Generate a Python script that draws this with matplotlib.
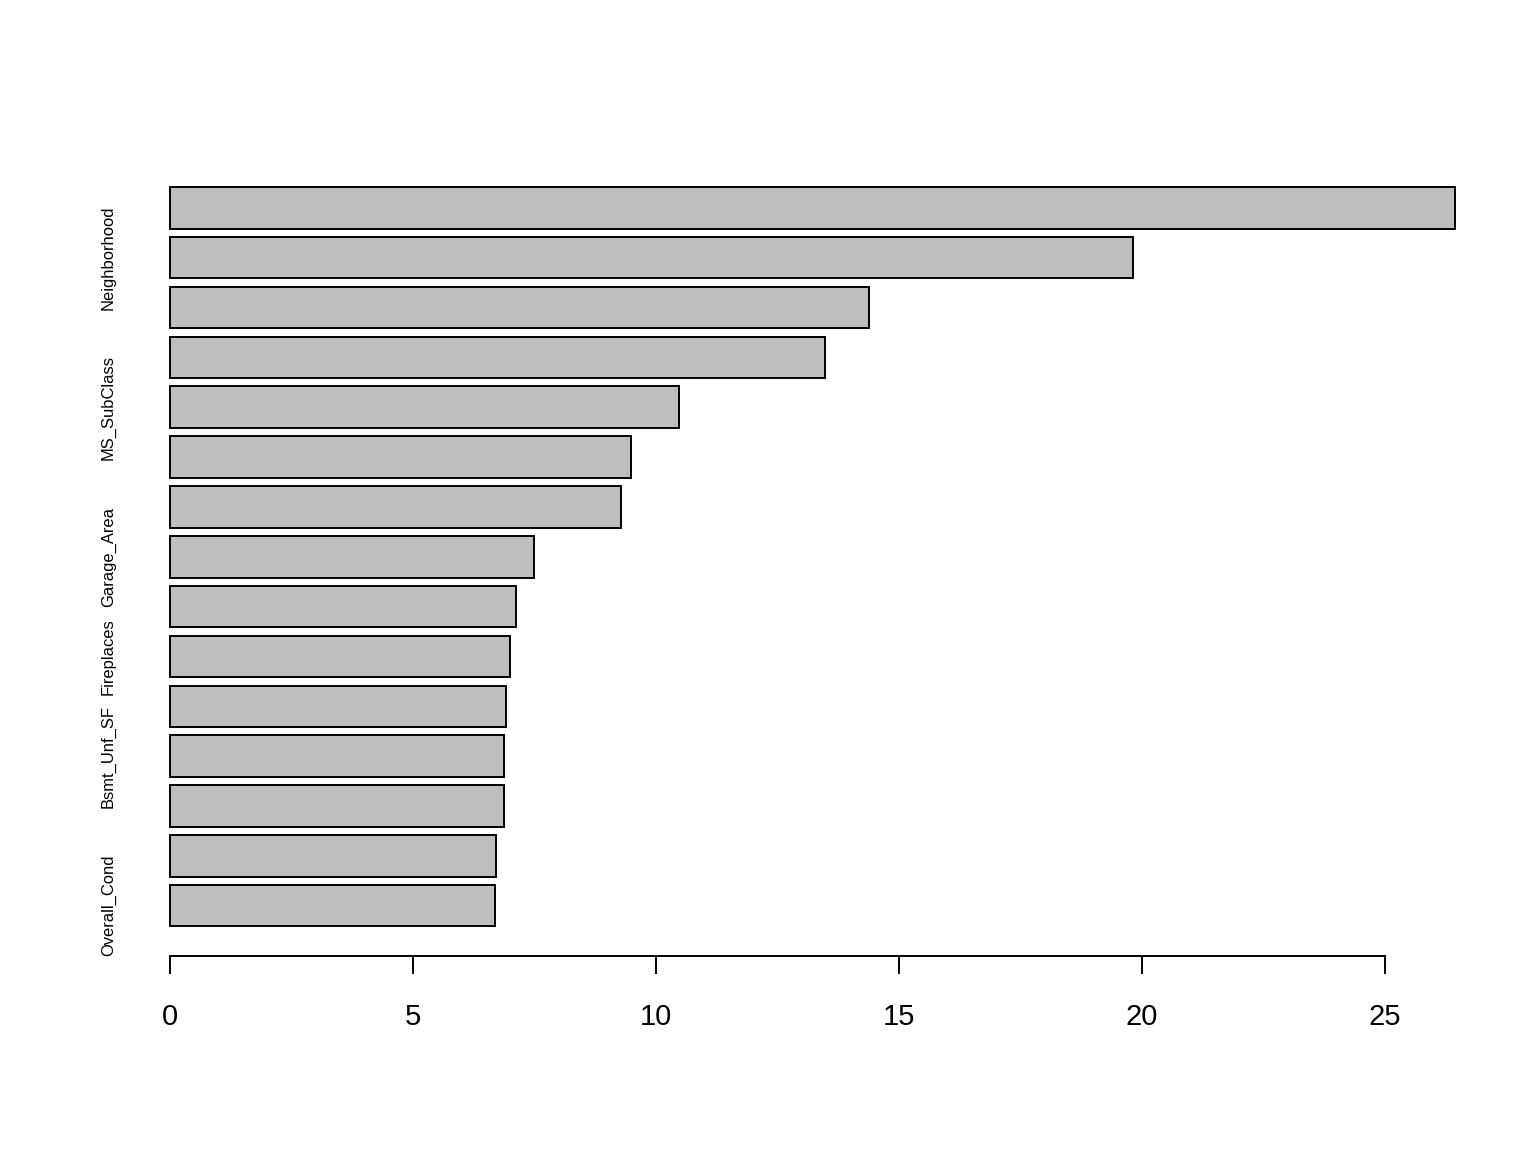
import numpy as np
import matplotlib.pyplot as plt

plt.rcParams['font.family'] = ['Liberation Sans', 'DejaVu Sans']

# importance values, bottom bar first (as R barplot draws them)
values = [6.69, 6.71, 6.87, 6.87, 6.91, 7.00, 7.12, 7.49,
          9.28, 9.49, 10.47, 13.48, 14.38, 19.81, 26.44]
# R only printed the labels that did not overlap
labels = ['Overall_Cond', '', '', 'Bsmt_Unf_SF', '', 'Fireplaces', '', 'Garage_Area',
          '', '', 'MS_SubClass', '', '', 'Neighborhood', '']
xticks = [0, 5, 10, 15, 20, 25]

W, H = 1536, 1152
fig = plt.figure(figsize=(W / 100, H / 100), dpi=100)
left, right, top, bottom = 118.6, 1506.5, 157.5, 956
ax = fig.add_axes([left / W, (H - bottom) / H, (right - left) / W, (bottom - top) / H])

# barplot geometry: width 1, space 0.2
n = len(values)
centers = 0.2 + 1.2 * np.arange(n) + 0.5
ax.barh(centers, values, height=1.0, color='#bebebe', edgecolor='black', linewidth=1.4)

# R-style 4% axis expansion
xr = (0, max(values))
ax.set_xlim(xr[0] - 0.04 * (xr[1] - xr[0]), xr[1] + 0.04 * (xr[1] - xr[0]))
yr = (0.2, 1.2 * n)
ax.set_ylim(yr[0] - 0.04 * (yr[1] - yr[0]), yr[1] + 0.04 * (yr[1] - yr[0]))

for s in ['top', 'right', 'left']:
    ax.spines[s].set_visible(False)
ax.spines['bottom'].set_bounds(0, 25)
ax.spines['bottom'].set_linewidth(1.4)

ax.set_xticks(xticks)
ax.set_xticklabels([str(t) for t in xticks], fontsize=21)
ax.tick_params(axis='x', length=13, width=1.4, pad=21)

ax.set_yticks(centers)
ax.set_yticklabels(labels, rotation=90, va='center', fontsize=11.9)
ax.tick_params(axis='y', length=0, pad=2)

fig.savefig('out.png', dpi=100)
